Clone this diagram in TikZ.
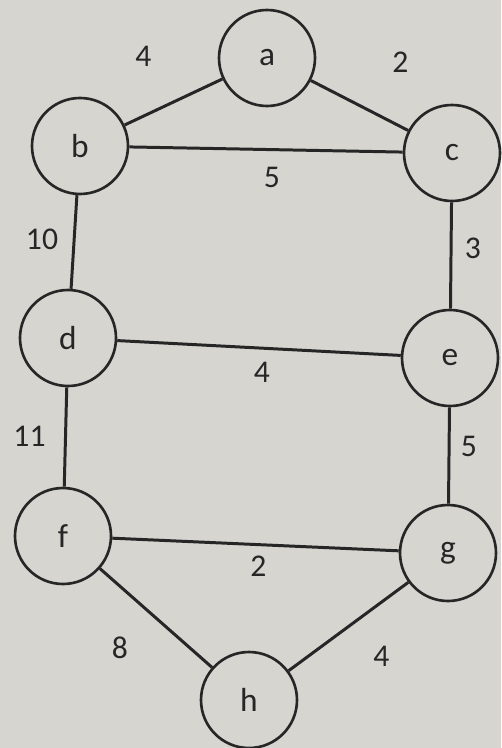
\documentclass[tikz,border=0pt]{standalone}
\usepackage{fontspec}
\setmainfont{Carlito}
\usepackage{tikz}
\usetikzlibrary{positioning}
\definecolor{paper}{RGB}{214,213,208}
\definecolor{ink}{RGB}{38,38,38}

\begin{document}
\begin{tikzpicture}[
			vertex/.style={
				circle,
				draw=ink,
				minimum size=1.92cm,
				line width=1.5pt,
				font=\fontsize{19}{22}\selectfont,
				text=ink
			},
			edge/.style={
				draw=ink,
				line width=1.7pt
			},
			weight/.style={
				font=\fontsize{18}{21}\selectfont,
				text=ink
			}
			]
			
			% paper
			\fill[paper] (0,0) rectangle (10.02,-14.96);
			\useasboundingbox (0,0) rectangle (10.02,-14.96);
			
			% vertices
			\node[vertex] (a) at (5.34,-1.16) {a};
			\node[vertex] (b) at (1.6,-2.92) {b};
			\node[vertex] (c) at (9.04,-3.06) {c};
			\node[vertex] (d) at (1.36,-6.76) {d};
			\node[vertex] (e) at (9.0,-7.16) {e};
			\node[vertex] (f) at (1.26,-10.72) {f};
			\node[vertex] (g) at (8.96,-11.06) {g};
			\node[vertex] (h) at (4.98,-14.0) {h};
			
			% edges with weights
			\draw[edge] (b) -- node[weight, xshift=-0.6cm, yshift=0.92cm] {4} (a);
			\draw[edge] (a) -- node[weight, xshift=0.82cm, yshift=0.86cm] {2} (c);
			\draw[edge] (b) -- node[weight, xshift=0.12cm, yshift=-0.56cm] {5} (c);
			\draw[edge] (b) -- node[weight, xshift=-0.64cm, yshift=0.06cm] {10} (d);
			\draw[edge] (c) -- node[weight, xshift=0.44cm, yshift=0.14cm] {3} (e);
			\draw[edge] (d) -- node[weight, xshift=0.06cm, yshift=-0.48cm] {4} (e);
			\draw[edge] (d) -- node[weight, xshift=-0.72cm, yshift=0.02cm] {11} (f);
			\draw[edge] (e) -- node[weight, xshift=0.4cm, yshift=0.18cm] {5} (g);
			\draw[edge] (f) -- node[weight, xshift=0.06cm, yshift=-0.44cm] {2} (g);
			\draw[edge] (f) -- node[weight, xshift=-0.72cm, yshift=-0.6cm] {8} (h);
			\draw[edge] (g) -- node[weight, xshift=0.66cm, yshift=-0.6cm] {4} (h);
			
		\end{tikzpicture}
\end{document}
